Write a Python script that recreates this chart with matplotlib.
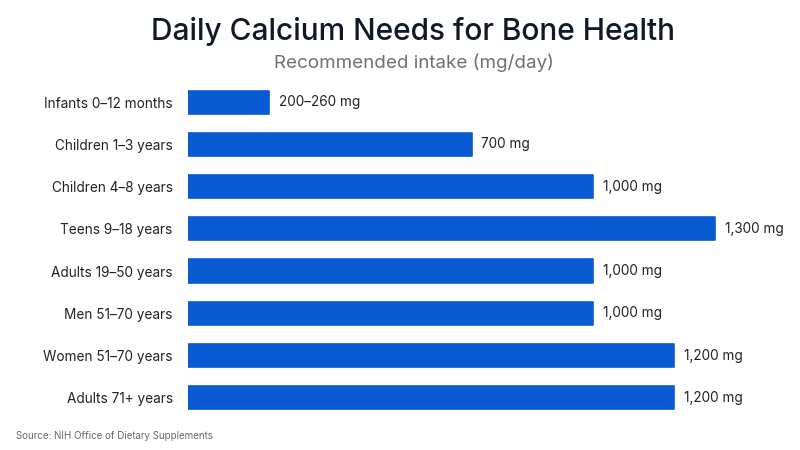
import matplotlib
matplotlib.use("Agg")
import matplotlib.pyplot as plt

plt.rcParams['font.family'] = ['Inter', 'DejaVu Sans']

# data
groups = ["Infants 0–12 months", "Children 1–3 years", "Children 4–8 years",
          "Teens 9–18 years", "Adults 19–50 years", "Men 51–70 years",
          "Women 51–70 years", "Adults 71+ years"]
intake_mg = [200, 700, 1000, 1300, 1000, 1000, 1200, 1200]
value_labels = ["200–260 mg", "700 mg", "1,000 mg", "1,300 mg",
                "1,000 mg", "1,000 mg", "1,200 mg", "1,200 mg"]

blue = '#0a5bd3'

fig = plt.figure(figsize=(8, 4.5), dpi=100)
fig.patch.set_facecolor('white')
ax = fig.add_axes([0.235, 0.069, 0.755, 0.751])

ypos = list(range(len(groups)))
ax.barh(ypos, intake_mg, height=0.55, color=blue, edgecolor=blue,
        linewidth=1.2, joinstyle='round')
ax.set_ylim(len(groups) - 0.5, -0.5)
ax.set_xlim(0, 1490)

for y, v, lab in zip(ypos, intake_mg, value_labels):
    ax.annotate(lab, (v, y), xytext=(7, 0), textcoords='offset points',
                va='center', ha='left', fontsize=9.8, color='#222222')

ax.set_yticks(ypos)
ax.set_yticklabels(groups, fontsize=9.8, color='#222222')
ax.tick_params(axis='y', length=0, pad=11)
ax.set_xticks([])
for s in ax.spines.values():
    s.set_visible(False)

fig.text(0.516, 0.93, "Daily Calcium Needs for Bone Health", ha='center',
         va='center', fontsize=21.5, fontweight='medium', color='#111827')
fig.text(0.518, 0.86, "Recommended intake (mg/day)", ha='center', va='center',
         fontsize=13.5, color='#707070')
fig.text(0.02, 0.031, "Source: NIH Office of Dietary Supplements", ha='left',
         va='center', fontsize=7, color='#666666')

fig.savefig('out.png', dpi=100, facecolor='white')
